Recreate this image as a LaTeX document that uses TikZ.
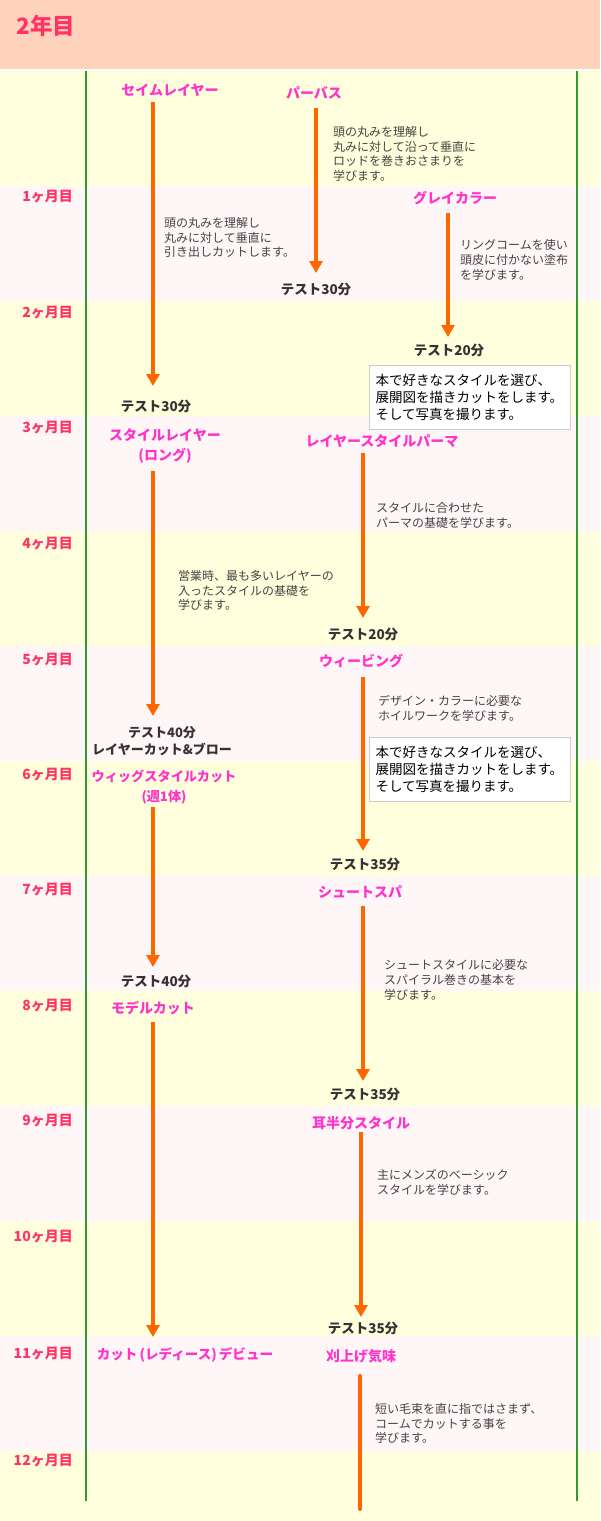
\documentclass[tikz,border=0pt]{standalone}
\usepackage{fontspec}
\setmainfont{Noto Sans CJK JP}
\usetikzlibrary{arrows.meta}
\definecolor{peach}{HTML}{FFD2BC}
\definecolor{bandy}{HTML}{FFFFDD}
\definecolor{bandp}{HTML}{FFF6F7}
\definecolor{gline}{HTML}{339933}
\definecolor{orng}{HTML}{FF6600}
\definecolor{monthc}{HTML}{FF3366}
\definecolor{titlec}{HTML}{FF33CC}
\definecolor{darkt}{HTML}{333333}
\definecolor{desct}{HTML}{444444}
\definecolor{boxb}{HTML}{CCCCCC}
\begin{document}
\begin{tikzpicture}[x=1pt,y=-1pt,
  month/.style={anchor=east,inner sep=0pt,text=monthc,font=\fontsize{14}{16}\selectfont\bfseries},
  course/.style={inner sep=0pt,text=titlec,align=center,font=\fontsize{14}{20}\selectfont\bfseries},
  testlbl/.style={inner sep=0pt,text=darkt,align=center,font=\fontsize{13.5}{17}\selectfont\bfseries},
  desc/.style={anchor=west,inner sep=0pt,text=desct,align=left,font=\fontsize{12}{14.6}\selectfont},
  notebox/.style={anchor=north west,draw=boxb,fill=white,line width=1pt,inner xsep=6pt,inner ysep=0pt,minimum width=201pt,minimum height=64pt,align=left,text width=189pt,font=\fontsize{13.5}{16.7}\selectfont,text=black},
  flow/.style={draw=orng,line width=4pt,-{Triangle[width=13pt,length=12pt]}},
  tail/.style={draw=orng,line width=4pt,line cap=round},
]
\useasboundingbox (0,0) rectangle (600,1521);
\fill[white] (0,0) rectangle (600,1521);
\fill[peach] (0,0) rectangle (600,69);
\foreach \t/\c in {71/bandy,186/bandp,301/bandy,416/bandp,531/bandy,646/bandp,761/bandy,876/bandp,991/bandy,1106/bandp,1221/bandy,1336/bandp}
  {\fill[\c] (0,\t) rectangle (600,\t+115);}
\fill[bandy] (0,1451) rectangle (600,1521);
\draw[gline,line width=1.2pt] (86,71) -- (86,1501);
\draw[gline,line width=1.2pt] (577,71) -- (577,1501);

% title
\node (title) [inner sep=0pt,text=monthc,font=\fontsize{22.5}{24}\selectfont\bfseries] at (46,26) {2年目};

% months
\node (m1) [month] at (73,197) {1ヶ月目};
\node (m2) [month] at (73,313) {2ヶ月目};
\node (m3) [month] at (73,428) {3ヶ月目};
\node (m4) [month] at (73,544) {4ヶ月目};
\node (m5) [month] at (73,660) {5ヶ月目};
\node (m6) [month] at (73,775) {6ヶ月目};
\node (m7) [month] at (73,890) {7ヶ月目};
\node (m8) [month] at (73,1006) {8ヶ月目};
\node (m9) [month] at (73,1121) {9ヶ月目};
\node (m10) [month] at (73,1237) {10ヶ月目};
\node (m11) [month] at (73,1354) {11ヶ月目};
\node (m12) [month] at (73,1461) {12ヶ月目};

% left column
\node (same) [course] at (170,90) {セイムレイヤー};
\node (d2) [desc] at (164,237.5) {頭の丸みを理解し\\丸みに対して垂直に\\引き出しカットします。};
\node (t1) [testlbl] at (156,406) {テスト30分};
\node (long) [course] at (165,446) {スタイルレイヤー\\(ロング)};
\node (d5) [desc] at (178,590.5) {営業時、最も多いレイヤーの\\入ったスタイルの基礎を\\学びます。};
\node (t2) [testlbl,font=\fontsize{13}{17}\selectfont\bfseries] at (162,741.5) {テスト40分\\レイヤーカット\&ブロー};
\node (wig) [course,font=\fontsize{13.2}{20}\selectfont\bfseries] at (164,787) {ウィッグスタイルカット\\(週1体)};
\node (t3) [testlbl] at (156,981) {テスト40分};
\node (model) [course] at (153,1008) {モデルカット};
\node (debut) [course,font=\fontsize{13.6}{20}\selectfont\bfseries] at (185,1355) {カット\hspace{2pt}(レディース)\hspace{2pt}デビュー};

% right column
\node (perm) [course] at (314,93) {パーバス};
\node (d1) [desc] at (333,154) {頭の丸みを理解し\\丸みに対して沿って垂直に\\ロッドを巻きおさまりを\\学びます。};
\node (t4) [testlbl] at (316,289) {テスト30分};
\node (grey) [course] at (455,198) {グレイカラー};
\node (d3) [desc] at (460,260) {リングコームを使い\\頭皮に付かない塗布\\を学びます。};
\node (t5) [testlbl] at (449,350) {テスト20分};
\node (box1) [notebox] at (369,365) {本で好きなスタイルを選び、\\展開図を描きカットをします。\\そして写真を撮ります。};
\node (lperm) [course] at (382,441) {レイヤースタイルパーマ};
\node (d4) [desc] at (376,515.5) {スタイルに合わせた\\パーマの基礎を学びます。};
\node (t6) [testlbl] at (363,634) {テスト20分};
\node (weave) [course] at (361,661) {ウィービング};
\node (d6) [desc] at (378,708.5) {デザイン・カラーに必要な\\ホイルワークを学びます。};
\node (box2) [notebox] at (369,737) {本で好きなスタイルを選び、\\展開図を描きカットをします。\\そして写真を撮ります。};
\node (t7) [testlbl] at (365,864) {テスト35分};
\node (shoot) [course] at (360,892) {シュートスパ};
\node (d7) [desc] at (384,980) {シュートスタイルに必要な\\スパイラル巻きの基本を\\学びます。};
\node (t8) [testlbl] at (365,1094) {テスト35分};
\node (mimi) [course] at (361,1123) {耳半分スタイル};
\node (d8) [desc] at (377,1182.5) {主にメンズのベーシック\\スタイルを学びます。};
\node (t9) [testlbl] at (363,1328) {テスト35分};
\node (kari) [course] at (361,1356) {刈上げ気味};
\node (d9) [desc] at (375,1423.5) {短い毛束を直に指ではさまず、\\コームでカットする事を\\学びます。};

% arrow end points
\coordinate (a1s) at (153,102);  \coordinate (a1e) at (153,386);
\coordinate (a2s) at (153,471);  \coordinate (a2e) at (153,716);
\coordinate (a3s) at (153,807);  \coordinate (a3e) at (153,967);
\coordinate (a4s) at (153,1022); \coordinate (a4e) at (153,1337);
\coordinate (b1s) at (316,108);  \coordinate (b1e) at (316,273);
\coordinate (b2s) at (448,213);  \coordinate (b2e) at (448,337);
\coordinate (b3s) at (363,453);  \coordinate (b3e) at (363,618);
\coordinate (b4s) at (363,677);  \coordinate (b4e) at (363,851);
\coordinate (b5s) at (363,906);  \coordinate (b5e) at (363,1081);
\coordinate (b6s) at (361,1132); \coordinate (b6e) at (361,1317);
\coordinate (b7s) at (360,1376); \coordinate (b7e) at (360,1509);

\draw[flow] (a1s) -- (a1e);
\draw[flow] (a2s) -- (a2e);
\draw[flow] (a3s) -- (a3e);
\draw[flow] (a4s) -- (a4e);
\draw[flow] (b1s) -- (b1e);
\draw[flow] (b2s) -- (b2e);
\draw[flow] (b3s) -- (b3e);
\draw[flow] (b4s) -- (b4e);
\draw[flow] (b5s) -- (b5e);
\draw[flow] (b6s) -- (b6e);
\draw[tail] (b7s) -- (b7e);
\end{tikzpicture}
\end{document}
